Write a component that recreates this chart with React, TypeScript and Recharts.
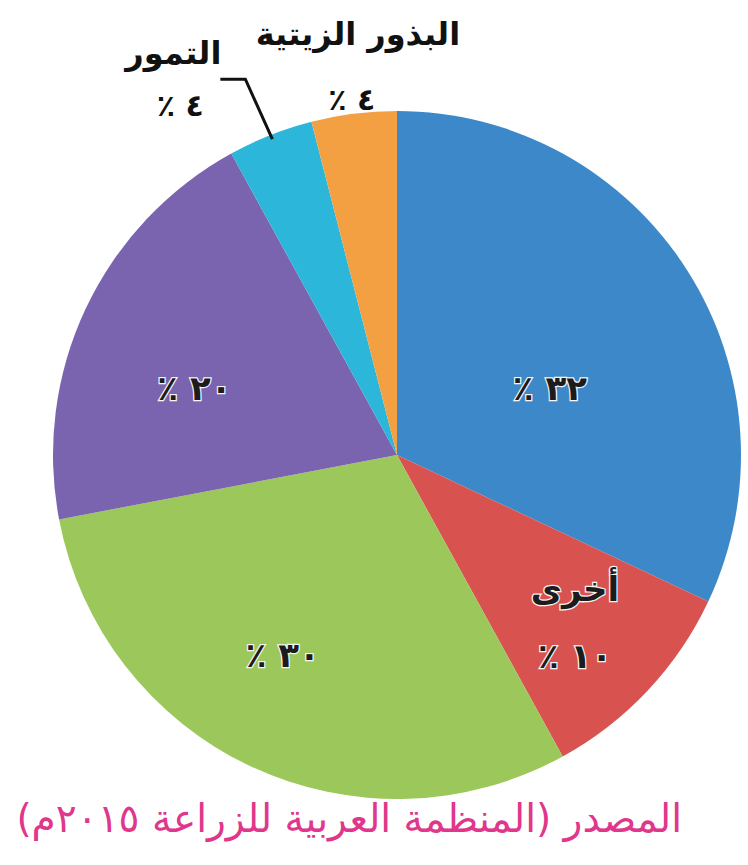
import React from "react";
import { PieChart, Pie, Cell } from "recharts";

// clockwise from 12 o'clock
const categories = ["", "أخرى", "", "", "التمور", "البذور الزيتية"];
const shares = [32, 10, 30, 20, 4, 4];
const colors = ["#3d88c9", "#d8534f", "#9cc75a", "#7b64af", "#2cb6d9", "#f3a042"];
const sourceNote = "المصدر (المنظمة العربية للزراعة ٢٠١٥م)";

const data = categories.map((name, i) => ({ name, value: shares[i] }));

const RADIAN = Math.PI / 180;
const AR_DIGITS = "٠١٢٣٤٥٦٧٨٩";
const toArabic = (n: number) =>
  String(n)
    .split("")
    .map((d) => AR_DIGITS[Number(d)] ?? d)
    .join("");

const polar = (cx: number, cy: number, r: number, angle: number) => ({
  x: cx + r * Math.cos(-angle * RADIAN),
  y: cy + r * Math.sin(-angle * RADIAN),
});

// label placement per slice: radius factor + angle nudge, or outside callout
const labelLayout = [
  { f: 0.485, da: -8.8 },
  { f: 0.71, da: 0 },
  { f: 0.67, da: -4.5 },
  { f: 0.62, da: 7 },
  { outside: "leader" },
  { outside: "above" },
];

const FONT = "'DejaVu Sans', sans-serif";

const renderLabel = (props: any) => {
  const { cx, cy, midAngle, outerRadius, index, value, name } = props;
  const layout: any = labelLayout[index];
  const valueText = `${toArabic(value)} ٪`;

  if (layout.outside) {
    const edge = polar(cx, cy, outerRadius, midAngle);
    const outStyle = {
      fontFamily: FONT,
      fontWeight: 700,
      fill: "#111",
    } as const;
    if (layout.outside === "above") {
      return (
        <g key={`lbl-${index}`}>
          <text x={edge.x + 4} y={edge.y - 80} textAnchor="middle" dominantBaseline="central" direction="rtl" fontSize={32} style={outStyle}>
            {name}
          </text>
          <text x={edge.x - 2} y={edge.y - 14} textAnchor="middle" dominantBaseline="central" direction="rtl" fontSize={30} style={outStyle}>
            {valueText}
          </text>
        </g>
      );
    }
    const elbow = { x: edge.x - 25, y: edge.y - 56 };
    const end = { x: elbow.x - 25, y: elbow.y };
    return (
      <g key={`lbl-${index}`}>
        <polyline
          points={`${edge.x + 2},${edge.y + 4} ${elbow.x},${elbow.y} ${end.x},${end.y}`}
          fill="none"
          stroke="#111"
          strokeWidth={3}
        />
        <text x={edge.x - 97} y={edge.y - 82} textAnchor="middle" dominantBaseline="central" direction="rtl" fontSize={32} style={outStyle}>
          {name}
        </text>
        <text x={edge.x - 90} y={edge.y - 30} textAnchor="middle" dominantBaseline="central" direction="rtl" fontSize={30} style={outStyle}>
          {valueText}
        </text>
      </g>
    );
  }

  const p = polar(cx, cy, outerRadius * layout.f, midAngle + layout.da);
  const inStyle = {
    fontFamily: FONT,
    fontWeight: 700,
    fill: "#1c1c1c",
    stroke: "#f4f4f4",
    strokeWidth: 2.5,
    paintOrder: "stroke",
  } as any;
  if (name) {
    return (
      <g key={`lbl-${index}`}>
        <text x={p.x} y={p.y - 33} textAnchor="middle" dominantBaseline="central" direction="rtl" fontSize={34} style={inStyle}>
          {name}
        </text>
        <text x={p.x} y={p.y + 34} textAnchor="middle" dominantBaseline="central" direction="rtl" fontSize={34} style={inStyle}>
          {valueText}
        </text>
      </g>
    );
  }
  return (
    <text key={`lbl-${index}`} x={p.x} y={p.y} textAnchor="middle" dominantBaseline="central" direction="rtl" fontSize={34} style={inStyle}>
      {valueText}
    </text>
  );
};

export default function App() {
  return (
    <div style={{ position: "absolute", left: 0, top: 0, width: 748, height: 865, background: "#fff" }}>
      <PieChart width={748} height={865}>
        <Pie
          data={data}
          dataKey="value"
          nameKey="name"
          cx={392}
          cy={450}
          outerRadius={344}
          startAngle={90}
          endAngle={-270}
          stroke="none"
          labelLine={false}
          label={renderLabel}
          isAnimationActive={false}
        >
          {data.map((d, i) => (
            <Cell key={d.value + "-" + i} fill={colors[i]} />
          ))}
        </Pie>
      </PieChart>
      <div
        style={{
          position: "absolute",
          right: 66,
          top: 796,
          direction: "rtl",
          fontFamily: FONT,
          fontSize: 39,
          color: "#e0368c",
          whiteSpace: "nowrap",
        }}
      >
        {sourceNote}
      </div>
    </div>
  );
}
